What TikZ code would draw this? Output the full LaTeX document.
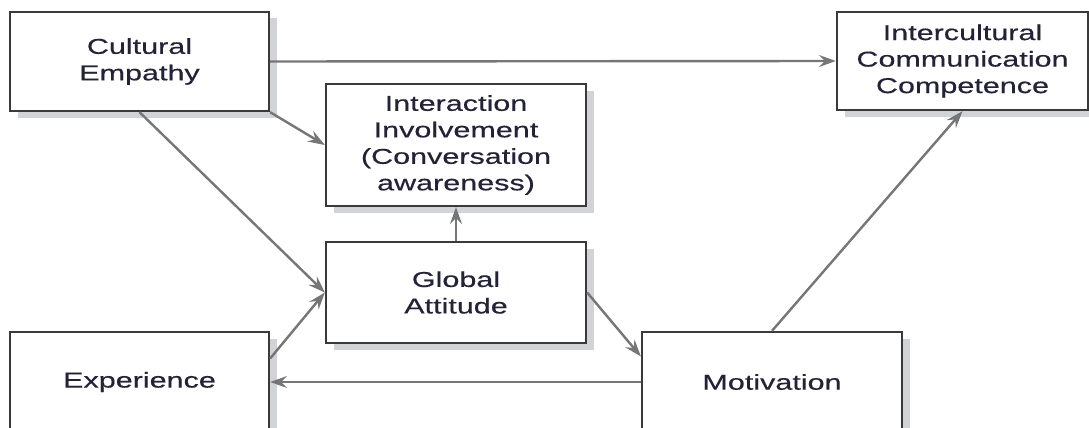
\documentclass[tikz,border=0pt]{standalone}
\usepackage{fontspec}
\setmainfont[FakeStretch=1.42,FakeBold=0.4]{Liberation Sans}
\usetikzlibrary{arrows.meta,shadows,calc}
\definecolor{boxline}{HTML}{3A3A3A}
\definecolor{arrowgray}{HTML}{767676}
\definecolor{shadowgray}{HTML}{D2D3D6}
\definecolor{txt}{HTML}{22223A}
\tikzset{
  box/.style={draw=boxline, line width=2.3pt, fill=white, align=center,
    text=txt, font=\fontsize{21.5}{26.5}\selectfont, inner sep=0pt,
    drop shadow={shadow xshift=8pt, shadow yshift=-6.5pt, fill=shadowgray, opacity=1}},
  conn/.style={draw=arrowgray, line width=2.4pt,
    -{Stealth[length=17pt,width=12pt,inset=6pt]}}
}
\begin{document}
\begin{tikzpicture}[x=1pt,y=-1pt]
\useasboundingbox (0,0) rectangle (1089,428);
\clip (0,0) rectangle (1089,428);
\node[box, minimum width=259pt, minimum height=99pt] (ce) at (139.5,61.5) {Cultural\\Empathy};
\node[box, minimum width=260pt, minimum height=122pt] (ii) at (456,145) {Interaction\\Involvement\\(Conversation\\awareness)};
\node[box, minimum width=251pt, minimum height=98pt] (icc) at (962.5,61) {Intercultural\\Communication\\Competence};
\node[box, minimum width=260pt, minimum height=101pt] (ga) at (456,292.5) {Global\\Attitude};
\node[box, minimum width=259pt, minimum height=100pt] (exp) at (139.5,382) {Experience};
\node[box, minimum width=260pt, minimum height=100pt] (mot) at (772,382) {Motivation};
\coordinate (expout) at ($(exp.north east)!0.27!(exp.south east)$);
\coordinate (motin) at ($(mot.north west)!0.25!(mot.south west)$);
\draw[conn] (ce.east) -- (icc.west);
\draw[conn] (ce.south east) -- (ii.west);
\draw[conn] (ce.south) -- (ga.west);
\draw[conn] (expout) -- (ga.west);
\draw[conn] (ga.north) -- (ii.south);
\draw[conn] (ga.east) -- (motin);
\draw[conn] (mot.west) -- (exp.east);
\draw[conn] (mot.north) -- (icc.south);
\end{tikzpicture}
\end{document}
